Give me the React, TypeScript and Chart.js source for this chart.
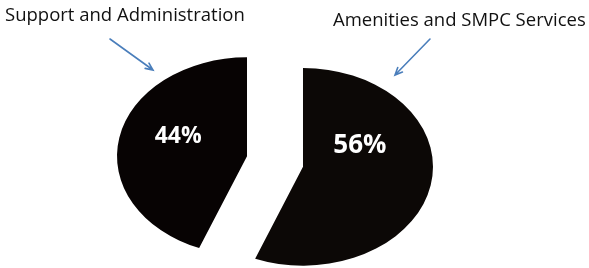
import React, { useEffect, useRef } from "react";
import { Chart, registerables } from "chart.js";

Chart.register(...registerables);

const categories = ["Amenities and SMPC Services", "Support and Administration"];
const shares = [56, 44];
const percentLabels = ["56%", "44%"];
const sliceColors = ["#0c0806", "#070303"];

const FONT = "'Open Sans', 'Noto Sans', sans-serif";

// callouts: text and arrow for each slice (layout only)
const callouts = [
  { text: categories[0], tx: 333, ty: 25.7, from: [430, 39], to: [395, 75] },
  { text: categories[1], tx: 5, ty: 20.7, from: [110, 39], to: [153, 70] },
];

const explodePlugin = {
  id: "explodeTilt",
  beforeDatasetDraw(chart: any, args: any, opts: any) {
    const ctx = chart.ctx;
    for (const arc of args.meta.data) {
      const { x, y, startAngle, endAngle } = arc.getProps(["x", "y", "startAngle", "endAngle"], true);
      const mid = (startAngle + endAngle) / 2;
      ctx.save();
      ctx.translate(x + Math.cos(mid) * opts.distance, y + Math.sin(mid) * opts.distance);
      ctx.scale(1, opts.tilt);
      ctx.translate(-x, -y);
      arc.draw(ctx);
      ctx.restore();
    }
    return false;
  },
  afterDatasetsDraw(chart: any, _args: any, opts: any) {
    const ctx = chart.ctx;
    const meta = chart.getDatasetMeta(0);
    meta.data.forEach((arc: any, i: number) => {
      const { x, y, startAngle, endAngle, outerRadius } = arc.getProps(
        ["x", "y", "startAngle", "endAngle", "outerRadius"],
        true
      );
      const mid = (startAngle + endAngle) / 2;
      const r = outerRadius * 0.5;
      const lx = x + Math.cos(mid) * (opts.distance + r) + opts.labelNudge[i][0];
      const ly = y + Math.sin(mid) * (opts.distance + r * opts.tilt) + opts.labelNudge[i][1];
      ctx.save();
      ctx.fillStyle = "#ffffff";
      ctx.font = `bold ${opts.labelSizes[i]}px ${FONT}`;
      ctx.textAlign = "center";
      ctx.textBaseline = "alphabetic";
      ctx.fillText(percentLabels[i], lx, ly);
      ctx.restore();
    });

    // callouts
    callouts.forEach((c) => {
      ctx.save();
      ctx.fillStyle = "#111111";
      ctx.font = `18.5px ${FONT}`;
      ctx.textAlign = "left";
      ctx.textBaseline = "alphabetic";
      ctx.fillText(c.text, c.tx, c.ty);
      ctx.strokeStyle = "#4a7ebb";
      ctx.lineWidth = 1.6;
      ctx.lineCap = "round";
      ctx.beginPath();
      ctx.moveTo(c.from[0], c.from[1]);
      ctx.lineTo(c.to[0], c.to[1]);
      const ang = Math.atan2(c.to[1] - c.from[1], c.to[0] - c.from[0]);
      const hl = 8;
      const ha = 0.42;
      ctx.moveTo(c.to[0] - hl * Math.cos(ang - ha), c.to[1] - hl * Math.sin(ang - ha));
      ctx.lineTo(c.to[0], c.to[1]);
      ctx.lineTo(c.to[0] - hl * Math.cos(ang + ha), c.to[1] - hl * Math.sin(ang + ha));
      ctx.stroke();
      ctx.restore();
    });
  },
};

export default function App() {
  const ref = useRef<HTMLCanvasElement | null>(null);
  useEffect(() => {
    if (!ref.current) return;
    const chart = new Chart(ref.current, {
      type: "pie",
      data: {
        labels: categories,
        datasets: [
          {
            data: shares,
            backgroundColor: sliceColors,
            borderWidth: 0,
            clip: false as any,
          },
        ],
      },
      options: {
        animation: false,
        responsive: true,
        maintainAspectRatio: false,
        radius: 130,
        layout: { padding: { left: 0, right: 39, top: 55, bottom: 0 } },
        events: [],
        plugins: {
          legend: { display: false },
          tooltip: { enabled: false },
          title: { display: false },
          explodeTilt: {
            distance: 28.5,
            tilt: 0.76,
            labelSizes: [26, 23],
            labelNudge: [
              [-7, -23],
              [-5, -4],
            ],
          },
        } as any,
      } as any,
      plugins: [explodePlugin as any],
    });
    return () => chart.destroy();
  }, []);
  return (
    <div style={{ position: "fixed", left: 0, top: 0, width: 589, height: 268, background: "#ffffff" }}>
      <canvas ref={ref} />
    </div>
  );
}
